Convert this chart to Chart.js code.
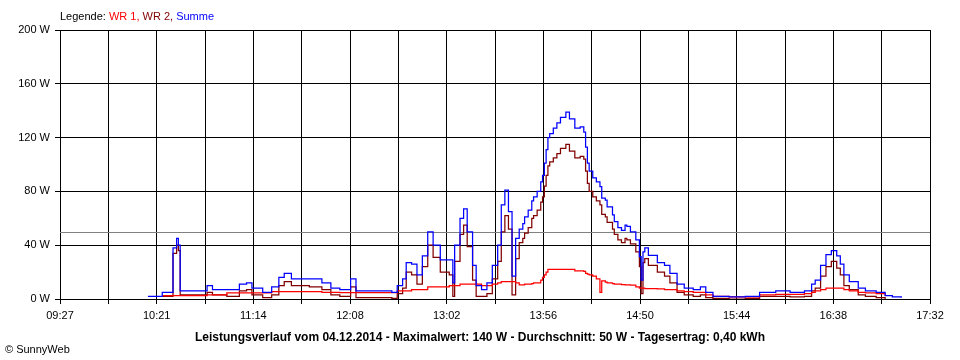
<!DOCTYPE html>
<html>
<head>
<meta charset="utf-8">
<script src="https://cdn.jsdelivr.net/npm/chart.js@4/dist/chart.umd.min.js"></script>
<style>
  body { margin: 0; background: #fff; }
  canvas { display: block; }
</style>
</head>
<body>
<canvas id="chart" width="960" height="360"></canvas>
<script>
// --- Data (04.12.2014) ---
const startTime = '09:27';
const endTime = '17:32';
const tickLabels = ['09:27', '10:21', '11:14', '12:08', '13:02', '13:56', '14:50', '15:44', '16:38', '17:32'];
const yTicks = [0, 40, 80, 120, 160, 200];
const avgWatt = 50;

const times = [
  '10:16', '10:24', '10:30', '10:32', '10:33', '10:34', '10:42', '10:49', '10:52', '11:00',
  '11:07', '11:11', '11:14', '11:20', '11:25', '11:29', '11:32', '11:36', '11:46', '11:53',
  '11:58', '12:03', '12:09', '12:12', '12:23', '12:32', '12:35', '12:38', '12:40', '12:43',
  '12:46', '12:49', '12:52', '12:55', '12:59', '13:04', '13:06', '13:07', '13:10', '13:12',
  '13:14', '13:17', '13:19', '13:22', '13:25', '13:28', '13:31', '13:33', '13:35', '13:37',
  '13:39', '13:41', '13:43', '13:45', '13:46', '13:48', '13:50', '13:51', '13:53', '13:55',
  '13:56', '13:57', '13:58', '13:59', '14:00', '14:02', '14:04', '14:06', '14:09', '14:11',
  '14:14', '14:17', '14:19', '14:20', '14:21', '14:22', '14:24', '14:26', '14:28', '14:29',
  '14:31', '14:32', '14:35', '14:36', '14:38', '14:40', '14:42', '14:43', '14:45', '14:48',
  '14:50', '14:51', '14:52', '14:53', '14:55', '15:00', '15:04', '15:07', '15:11', '15:15',
  '15:20', '15:24', '15:27', '15:31', '15:40', '15:49', '15:57', '16:06', '16:14', '16:22',
  '16:26', '16:28', '16:31', '16:34', '16:37', '16:40', '16:42', '16:44', '16:47', '16:52',
  '16:56', '17:02', '17:07', '17:11', '17:16'
];
const summe = [
  2, 5, 38, 45, 40, 6, 6, 10, 7, 7,
  11, 12, 8, 5, 9, 16, 19, 15, 15, 12,
  8, 7, 15, 6, 6, 5, 10, 15, 27, 26,
  18, 32, 50, 40, 29, 29, 12, 40, 60, 67,
  50, 25, 10, 7, 12, 25, 40, 70, 81, 65,
  17, 45, 52, 56, 61, 66, 73, 76, 80, 87,
  92, 101, 111, 120, 123, 127, 131, 135, 139, 134,
  127, 128, 124, 113, 101, 95, 90, 87, 83.5, 75,
  73.5, 68.5, 62.5, 57.5, 53, 51, 55, 54, 50, 44,
  31.5, 14, 35, 38, 32.5, 27, 25, 19, 11, 8,
  7, 9, 5, 2, 1.5, 2, 5, 6, 5, 6,
  11, 14, 25, 33, 36, 32, 26, 18, 13, 8,
  6, 5, 2.5, 1.5, 1
];
const wr1 = [
  null, 2.5, 2.5, 2.5, 2.5, 2.5, 2.5, 3, 3, 4.5,
  4.5, 4.5, 4.5, 4.5, 5.5, 5.5, 5.5, 5.5, 5.5, 5,
  5, 4.7, 4.7, 4.7, 4.7, 4.7, 6, 6, 6, 7,
  7, 7, 9, 9, 9, 10, 10, 10, 11, 11,
  11, 11, 11, 10, 10, 11, 12, 13, 13, 13,
  13, 12, 10.5, 10.5, 11, 11, 11.5, 12, 12, 14,
  16, 18, 20, 22, 22, 22, 22, 22, 22, 22,
  21, 21, 20.5, 19, 18.5, 18, 17, 15, 5, 13.5,
  12.5, 12, 11.5, 11, 11, 10.7, 10.5, 10.5, 10.4, 9,
  8, 8, 8, 7.7, 7.7, 7.5, 7, 7, 6, 5.5,
  5, 5, 3, 2, 1.5, 1.5, 3, 3.5, 3.5, 4,
  5, 6, 7, 8, 8, 8, 8, 7, 6, 5,
  4.5, 4, 2.5, null, null
];
const wr2 = [
  null, 2, 34, 40, 36, 3, 3, 5, 3, 2,
  6, 7, 3, 1, 3, 10, 13, 10, 9, 7,
  3, 2, 9, 1, 1, 0.5, 4, 8, 20, 18,
  11, 24, 40, 31, 20, 18, 2, 28, 48, 55,
  39, 14, 2, 2, 4, 15, 28, 50, 62, 52,
  3, 30, 42, 45, 49, 53, 60, 62, 66, 72,
  76, 84, 92, 99, 102, 105, 108, 112, 115, 110,
  105, 106, 104, 95, 86, 80, 76, 73, 70, 63,
  61, 57, 52, 48, 44, 42, 45, 44, 41, 35,
  24, 4, 27, 30, 25, 20, 17, 12, 5, 3,
  2, 3, 1, 0.5, 0, 0.5, 2, 2, 1.5, 2,
  6, 8, 17, 24, 28, 23, 18, 10, 7, 3,
  2, 1, 0, null, null
];

const BLACK = '#000000';
const FONT = '"Liberation Sans", Arial, sans-serif';

function toMinutes(hhmm) {
  const [h, m] = hhmm.split(':').map(Number);
  return h * 60 + m;
}
const t0 = toMinutes(startTime);
const tEnd = toMinutes(endTime) - t0;
const xs = times.map(t => toMinutes(t) - t0);

// 18 grid intervals, every second one labelled
const gridCount = (tickLabels.length - 1) * 2;
const gridMinutes = [];
for (let i = 0; i <= gridCount; i++) gridMinutes.push(tEnd * i / gridCount);

function series(values) {
  return xs.map((x, i) => ({ x, y: values[i] }));
}

// --- legend, title, copyright and the average line ---
const decorations = {
  id: 'decorations',
  beforeDatasetsDraw(chart) {
    const { ctx, chartArea, scales } = chart;
    const y = Math.round(scales.y.getPixelForValue(avgWatt)) + 0.5;
    ctx.save();
    ctx.strokeStyle = '#808080';
    ctx.lineWidth = 1;
    ctx.beginPath();
    ctx.moveTo(chartArea.left, y);
    ctx.lineTo(chartArea.right, y);
    ctx.stroke();
    ctx.restore();
  },
  afterDraw(chart) {
    const { ctx } = chart;
    ctx.save();
    ctx.textBaseline = 'alphabetic';
    ctx.font = '11px ' + FONT;
    let x = 60;
    [['Legende: ', BLACK], ['WR 1, ', '#ff0000'], ['WR 2, ', '#800000'], ['Summe', '#0000ff']].forEach(([txt, col]) => {
      ctx.fillStyle = col;
      ctx.fillText(txt, x, 20);
      x += ctx.measureText(txt).width;
    });

    ctx.fillStyle = BLACK;
    ctx.font = 'bold 12px ' + FONT;
    ctx.textAlign = 'center';
    ctx.fillText('Leistungsverlauf vom 04.12.2014 - Maximalwert: 140 W - Durchschnitt: 50 W - Tagesertrag: 0,40 kWh', 480, 341);

    ctx.font = '11px ' + FONT;
    ctx.textAlign = 'left';
    ctx.fillText('\u00A9 SunnyWeb', 5, 353);
    ctx.restore();
  }
};

// value of a sample holds until the next sample
const lineStyle = { stepped: 'before', pointRadius: 0, borderWidth: 1.25, fill: false, spanGaps: false };

new Chart(document.getElementById('chart'), {
  type: 'line',
  data: {
    datasets: [
      { label: 'Summe', data: series(summe), borderColor: '#0000ff', order: 0, ...lineStyle },
      { label: 'WR 1', data: series(wr1), borderColor: '#ff0000', order: 1, ...lineStyle },
      { label: 'WR 2', data: series(wr2), borderColor: '#800000', order: 2, ...lineStyle }
    ]
  },
  options: {
    responsive: false,
    animation: false,
    layout: { padding: { top: 30, right: 30, left: 0, bottom: 0 } },
    plugins: { legend: { display: false }, tooltip: { enabled: false } },
    scales: {
      x: {
        type: 'linear',
        min: 0,
        max: tEnd,
        afterBuildTicks: scale => { scale.ticks = gridMinutes.map(v => ({ value: v })); },
        afterFit: scale => { scale.height = 61; },
        grid: { color: BLACK, tickColor: BLACK, tickLength: 5, lineWidth: 1 },
        border: { color: BLACK, width: 1 },
        ticks: {
          autoSkip: false,
          maxRotation: 0,
          padding: 5,
          color: BLACK,
          font: { family: FONT, size: 11 },
          callback: (v, i) => (i % 2 === 0 ? tickLabels[i / 2] : '')
        }
      },
      y: {
        min: 0,
        max: 200,
        afterBuildTicks: scale => { scale.ticks = yTicks.map(v => ({ value: v })); },
        afterFit: scale => { scale.width = 60; },
        grid: { color: BLACK, tickColor: BLACK, tickLength: 5, lineWidth: 1 },
        border: { color: BLACK, width: 1 },
        ticks: {
          padding: 5,
          color: BLACK,
          font: { family: FONT, size: 11 },
          callback: v => v + ' W'
        }
      }
    }
  },
  plugins: [decorations]
});
</script>
</body>
</html>
